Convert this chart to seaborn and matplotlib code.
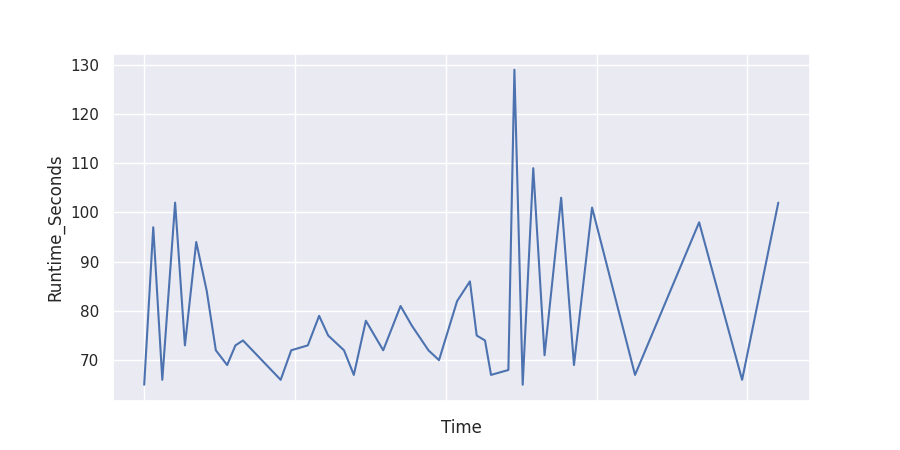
import matplotlib
matplotlib.use("Agg")
import matplotlib.pyplot as plt
import seaborn as sns
import pandas as pd

# time offsets (days from first run) and measured runtimes
time_days = [0, 1.2, 2.4, 4.1, 5.4, 6.9, 8.3, 9.5, 11.0, 12.1, 13.1,
             18.1, 19.5, 21.7, 23.2, 24.4, 26.5, 27.8, 29.4, 31.7, 34.0,
             35.5, 37.7, 39.1, 41.5, 43.2, 44.1, 45.2, 46.0, 48.3, 49.1,
             50.2, 51.6, 53.1, 55.3, 57.0, 59.4, 65.1, 73.6, 79.3, 84.1]
runtime_seconds = [65, 97, 66, 102, 73, 94, 84, 72, 69, 73, 74,
                   66, 72, 73, 79, 75, 72, 67, 78, 72, 81,
                   77, 72, 70, 82, 86, 75, 74, 67, 68, 129,
                   65, 109, 71, 103, 69, 101, 67, 98, 66, 102]
x_ticks = [0, 20, 40, 60, 80]

df = pd.DataFrame({"Time": time_days, "Runtime_Seconds": runtime_seconds})

sns.set_theme(style="darkgrid")
fig, ax = plt.subplots(figsize=(9, 4.5), dpi=100)
sns.lineplot(data=df, x="Time", y="Runtime_Seconds", ax=ax)
ax.set_xticks(x_ticks)
ax.set_xticklabels([])
ax.set_yticks([70, 80, 90, 100, 110, 120, 130])

plt.savefig("out.png", dpi=100)
